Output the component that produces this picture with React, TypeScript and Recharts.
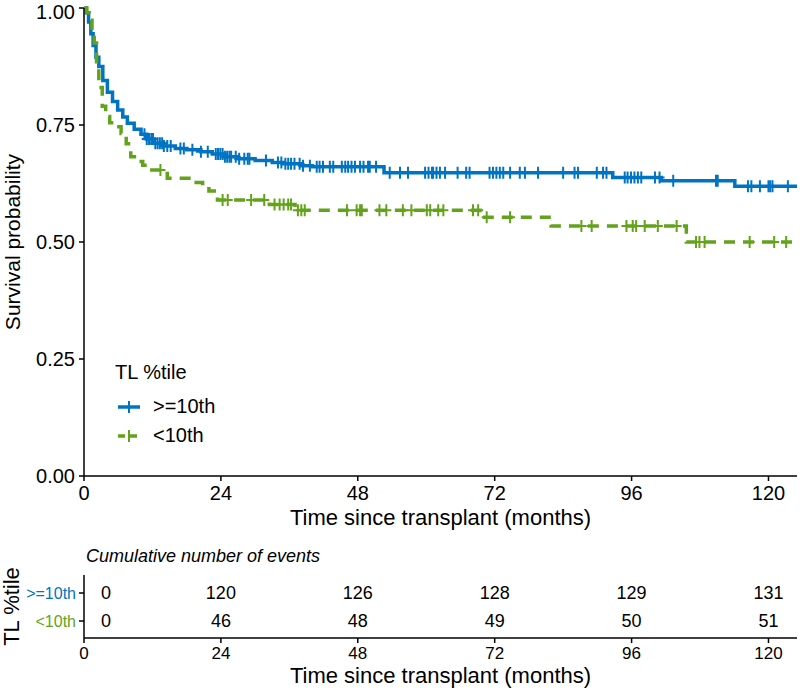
import React from 'react';
import {
  ComposedChart, Line, Scatter, XAxis, YAxis, Legend, Label,
} from 'recharts';

// Kaplan-Meier step curves: [months, survival]
const highCurve: [number, number][] = [
  [0, 1], [0.4, 0.99], [0.8, 0.97], [1.2, 0.945], [1.6, 0.92], [2.1, 0.895], [2.6, 0.875],
  [3.3, 0.845], [4.1, 0.82], [5.0, 0.8], [5.9, 0.782], [6.8, 0.767], [7.6, 0.754], [8.8, 0.741],
  [10.0, 0.73], [11.0, 0.72], [12.2, 0.711], [14.0, 0.705], [16.0, 0.7], [18.0, 0.697],
  [20.5, 0.693], [22.5, 0.688], [24.5, 0.682], [27.0, 0.678], [30.0, 0.674], [33.0, 0.67],
  [35.0, 0.667], [38.0, 0.663], [40.0, 0.661], [52.6, 0.648], [92.7, 0.638], [101.2, 0.631],
  [114.1, 0.619], [125, 0.619],
];
const lowCurve: [number, number][] = [
  [0, 1], [0.5, 0.99], [0.9, 0.974], [1.4, 0.95], [1.8, 0.925], [2.2, 0.88], [2.6, 0.83],
  [3.2, 0.79], [3.8, 0.768], [4.5, 0.755], [5.3, 0.746], [6.5, 0.732], [7.4, 0.71], [8.2, 0.682],
  [9.2, 0.672], [10.3, 0.664], [11.1, 0.654], [14.6, 0.636], [18.7, 0.627], [20.8, 0.62],
  [21.9, 0.609], [23.4, 0.59], [32.5, 0.58], [37.0, 0.568], [69.4, 0.553], [81.9, 0.534],
  [105.6, 0.5], [125, 0.5],
];

// censoring times (months)
const highCensor = [
  10.6, 11.0, 11.4, 11.8, 12.1, 12.5, 12.9, 13.3, 13.7, 14.0, 14.6, 15.2, 16.9, 17.5, 19.0, 20.5,
  21.7, 23.1, 23.5, 23.9, 24.3, 24.7, 25.1, 25.5, 25.8, 26.6, 27.2, 28.1, 28.7, 29.0, 31.9, 34.0,
  34.6, 35.3, 35.8, 36.3, 36.9, 37.8, 38.4, 39.6, 40.8, 41.3, 41.9, 43.1, 43.7, 45.2, 45.8, 46.3,
  46.9, 47.5, 48.4, 49.0, 49.8, 50.1, 51.2, 53.6, 55.4, 56.8, 59.8, 60.4, 61.0, 61.2, 61.8, 62.4,
  63.3, 65.5, 67.0, 67.6, 71.1, 71.7, 72.3, 72.9, 73.5, 74.7, 76.4, 77.3, 79.6, 84.0, 86.0, 86.6,
  89.9, 91.0, 91.6, 94.8, 95.3, 95.9, 96.5, 97.1, 97.7, 100.1, 100.9, 103.3, 110.8, 111.1, 116.4,
  117.0, 118.5, 120.0, 120.3, 120.7, 123.4,
];
const lowCensor = [
  13.4, 24.3, 25.2, 29.3, 31.6, 33.4, 34.3, 35.0, 35.8, 36.3, 37.5, 38.1, 38.7, 46.1, 47.8, 48.4,
  48.7, 51.8, 53.0, 55.9, 57.4, 60.1, 60.7, 62.1, 63.0, 68.2, 69.1, 70.6, 74.7, 87.2, 89.0, 95.1,
  96.2, 96.8, 98.3, 100.6, 103.9, 107.3, 107.9, 108.8, 116.7, 121.0, 123.1,
];

const xTicks = [0, 24, 48, 72, 96, 120];
const yTicks = [0, 0.25, 0.5, 0.75, 1];
const groups = ['>=10th', '<10th'];
const riskTimes = [0, 24, 48, 72, 96, 120];
const eventsHigh = [0, 120, 126, 128, 129, 131];
const eventsLow = [0, 46, 48, 49, 50, 51];

const BLUE = '#0073C2';
const GREEN = '#63A31B';
const FONT = '"Liberation Sans", Arial, sans-serif';

const toRows = (c: [number, number][]) => c.map(([t, s]) => ({ t, s }));
const survAt = (c: [number, number][], t: number) => {
  let s = c[0][1];
  for (const [ct, cs] of c) if (ct <= t) s = cs;
  return s;
};
const censorRows = (c: [number, number][], times: number[]) => times.map((t) => ({ t, s: survAt(c, t) }));

const plus = (color: string) => (props: any) => {
  const { cx, cy } = props;
  if (cx == null || cy == null) return <g />;
  return <path d={`M${cx - 5},${cy}h10M${cx},${cy - 6}v12`} stroke={color} strokeWidth={2} fill="none" />;
};

const axisStyle = { stroke: '#000', strokeWidth: 1.5 };

const LegendBox = () => (
  <div style={{ fontFamily: FONT, color: '#000' }}>
    <div style={{ fontSize: 20, marginBottom: 8, marginLeft: 3 }}>TL %tile</div>
    {[
      { name: '>=10th', color: BLUE, dash: undefined },
      { name: '<10th', color: GREEN, dash: '7 5' },
    ].map((it) => (
      <div key={it.name} style={{ display: 'flex', alignItems: 'center', height: 29, fontSize: 20 }}>
        <svg width={36} height={20} style={{ marginLeft: 5 }}>
          <line x1={1} y1={10} x2={23} y2={10} stroke={it.color} strokeWidth={3.5} strokeDasharray={it.dash} />
          <line x1={12} y1={4} x2={12} y2={16} stroke={it.color} strokeWidth={2} />
        </svg>
        <span>{it.name}</span>
      </div>
    ))}
  </div>
);

const RiskText = (props: any) => {
  const { cx, cy, payload, index } = props;
  if (cx == null || cy == null) return <g />;
  return (
    <text x={cx + (index === 0 ? 22 : 0)} y={cy} textAnchor="middle" dominantBaseline="central"
      fontSize={18} fontFamily={FONT} fill="#000">{payload.n}</text>
  );
};

const GroupTick = (props: any) => {
  const { x, y, payload } = props;
  const name = groups[payload.value - 1];
  const color = payload.value === 1 ? BLUE : GREEN;
  return (
    <text x={x} y={y} textAnchor="end" dominantBaseline="central" fontSize={16} fontFamily={FONT} fill={color}>
      {name}
    </text>
  );
};

const App: React.FC = () => {
  const highRisk = riskTimes.map((t, i) => ({ t, row: 1, n: eventsHigh[i] }));
  const lowRisk = riskTimes.map((t, i) => ({ t, row: 2, n: eventsLow[i] }));

  return (
    <div style={{ position: 'absolute', left: 0, top: 0, width: 800, height: 691, background: '#fff', fontFamily: FONT }}>
      <ComposedChart width={800} height={540} margin={{ top: 8, right: 3, left: 0, bottom: 0 }}>
        <XAxis dataKey="t" type="number" domain={[0, 125]} ticks={xTicks} height={64}
          axisLine={axisStyle} tickLine={axisStyle} tickSize={5} tickMargin={5}
          tick={{ fill: '#000', fontSize: 20, fontFamily: FONT }} allowDataOverflow>
          <Label content={(p: any) => {
            const vb = p.viewBox;
            return <text x={vb.x + vb.width / 2} y={525} textAnchor="middle" fontSize={22} fontFamily={FONT} fill="#000">Time since transplant (months)</text>;
          }} />
        </XAxis>
        <YAxis dataKey="s" type="number" domain={[0, 1]} ticks={yTicks} width={84}
          tickFormatter={(v: number) => v.toFixed(2)}
          axisLine={axisStyle} tickLine={axisStyle} tickSize={5} tickMargin={4}
          tick={{ fill: '#000', fontSize: 20, fontFamily: FONT }}>
          <Label content={(p: any) => {
            const vb = p.viewBox;
            const cy = vb.y + vb.height / 2;
            return <text x={20} y={cy} transform={`rotate(-90 20 ${cy})`} textAnchor="middle" fontSize={21} fontFamily={FONT} fill="#000">Survival probability</text>;
          }} />
        </YAxis>
        <Legend layout="horizontal" verticalAlign="middle" align="center" content={() => <LegendBox />}
          wrapperStyle={{ left: 112, top: 361, width: 200 }} />
        <Line data={toRows(highCurve)} dataKey="s" type="stepAfter" stroke={BLUE} strokeWidth={3.5}
          dot={false} activeDot={false} isAnimationActive={false} name=">=10th" />
        <Line data={toRows(lowCurve)} dataKey="s" type="stepAfter" stroke={GREEN} strokeWidth={3.5}
          strokeDasharray="11 8" dot={false} activeDot={false} isAnimationActive={false} name="<10th" />
        <Scatter data={censorRows(highCurve, highCensor)} dataKey="s" shape={plus(BLUE)} isAnimationActive={false} />
        <Scatter data={censorRows(lowCurve, lowCensor)} dataKey="s" shape={plus(GREEN)} isAnimationActive={false} />
      </ComposedChart>

      <div style={{ position: 'absolute', left: 86, top: 546, fontSize: 18, fontStyle: 'italic', color: '#000' }}>
        Cumulative number of events
      </div>
      <div style={{ position: 'absolute', left: 0, top: 540 }}>
        <ComposedChart width={800} height={151} margin={{ top: 35, right: 3, left: 0, bottom: 0 }}>
          <XAxis dataKey="t" type="number" domain={[0, 125]} ticks={xTicks} height={53}
            axisLine={axisStyle} tickLine={axisStyle} tickSize={5} tickMargin={4}
            tick={{ fill: '#000', fontSize: 17, fontFamily: FONT }}>
            <Label content={(p: any) => {
              const vb = p.viewBox;
              return <text x={vb.x + vb.width / 2} y={143} textAnchor="middle" fontSize={22} fontFamily={FONT} fill="#000">Time since transplant (months)</text>;
            }} />
          </XAxis>
          <YAxis dataKey="row" type="number" domain={[0.357, 2.607]} ticks={[1, 2]} reversed width={84}
            allowDataOverflow axisLine={axisStyle} tickLine={axisStyle} tickSize={5} tickMargin={3} tick={<GroupTick />}>
            <Label content={(p: any) => {
              const vb = p.viewBox;
              const cy = vb.y + vb.height / 2;
              return <text x={19} y={cy} transform={`rotate(-90 19 ${cy})`} textAnchor="middle" fontSize={22} fontFamily={FONT} fill="#000">TL %tile</text>;
            }} />
          </YAxis>
          <Scatter data={highRisk} dataKey="row" shape={<RiskText />} isAnimationActive={false} />
          <Scatter data={lowRisk} dataKey="row" shape={<RiskText />} isAnimationActive={false} />
        </ComposedChart>
      </div>
    </div>
  );
};

export default App;
